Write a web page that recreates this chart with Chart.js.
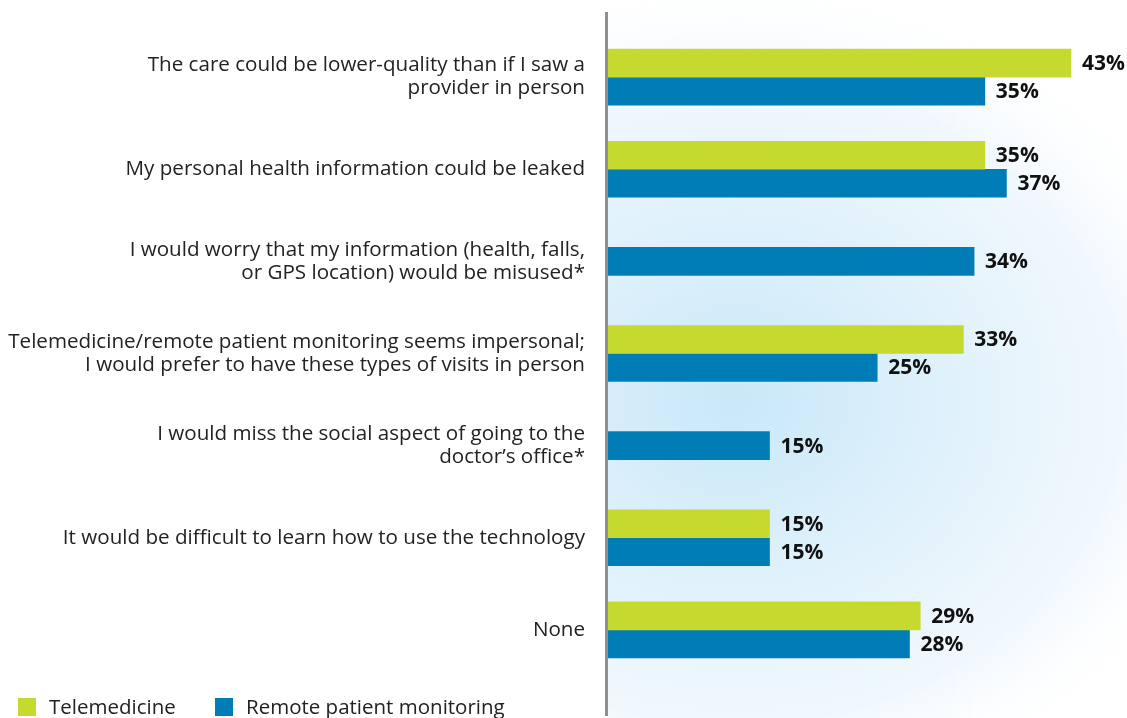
<!DOCTYPE html>
<html>
<head>
<meta charset="utf-8">
<script src="https://cdn.jsdelivr.net/npm/chart.js@4.4.1/dist/chart.umd.min.js"></script>
<style>
  html, body { margin: 0; padding: 0; background: #fff; overflow: hidden; }
  #wrap { position: relative; width: 1127px; height: 718px; }
</style>
</head>
<body>
<div id="wrap"><canvas id="dataChart"></canvas></div>
<script>
// Survey data (percent)
const categories = [
    ['The care could be lower-quality than if I saw a', 'provider in person'],
    'My personal health information could be leaked',
    ['I would worry that my information (health, falls,', 'or GPS location) would be misused*'],
    ['Telemedicine/remote patient monitoring seems impersonal;', 'I would prefer to have these types of visits in person'],
    ['I would miss the social aspect of going to the', 'doctor\u2019s office*'],
    'It would be difficult to learn how to use the technology',
    'None'
];
const telemedicine = [43, 35, null, 33, null, 15, 29];
const remoteMonitoring = [35, 37, 34, 25, 15, 15, 28];
const seriesNames = ['Telemedicine', 'Remote patient monitoring'];

const GREEN = '#c6d92e';
const BLUE = '#007cb6';
const FONT = "'Open Sans', 'Noto Sans', sans-serif";

// soft blue glow behind the plot (only right of the axis)
const backdrop = {
    id: 'backdrop',
    beforeDraw(chart) {
        const ctx = chart.ctx;
        const left = chart.chartArea.left;
        ctx.save();
        ctx.beginPath();
        ctx.rect(left, 0, chart.width - left, chart.height);
        ctx.clip();
        ctx.translate(735, 400);
        ctx.scale(1.2, 1);
        const g = ctx.createRadialGradient(0, 0, 0, 0, 0, 430);
        g.addColorStop(0, '#c8e8f8');
        g.addColorStop(0.4, '#dff1fb');
        g.addColorStop(0.75, '#f1f8fd');
        g.addColorStop(1, 'rgba(255,255,255,0)');
        ctx.fillStyle = g;
        ctx.fillRect(-600, -450, 1200, 900);
        ctx.restore();
    }
};

// axis line, value labels and legend
const extras = {
    id: 'extras',
    afterDatasetsDraw(chart) {
        const ctx = chart.ctx;
        const x0 = chart.scales.x.getPixelForValue(0);
        ctx.save();
        ctx.strokeStyle = '#8d9093';
        ctx.lineWidth = 3;
        ctx.beginPath();
        ctx.moveTo(x0 - 1.5, 12);
        ctx.lineTo(x0 - 1.5, 716);
        ctx.stroke();

        ctx.font = 'bold 21px ' + FONT;
        ctx.fillStyle = '#111';
        ctx.textBaseline = 'middle';
        ctx.textAlign = 'left';
        chart.data.datasets.forEach((ds, i) => {
            chart.getDatasetMeta(i).data.forEach((bar, j) => {
                if (ds.data[j] == null) return;
                ctx.fillText(ds.data[j] + '%', bar.x + 11, bar.y + 1);
            });
        });

        // legend
        ctx.font = '20.5px ' + FONT;
        const items = [{x: 18, c: GREEN}, {x: 215, c: BLUE}];
        items.forEach((it, i) => {
            ctx.fillStyle = it.c;
            ctx.fillRect(it.x, 698, 18, 18);
            ctx.fillStyle = '#222';
            ctx.fillText(seriesNames[i], it.x + 31, 708);
        });
        ctx.restore();
    }
};

new Chart(document.getElementById('dataChart').getContext('2d'), {
    type: 'bar',
    data: {
        labels: categories,
        datasets: [
            { label: seriesNames[0], data: telemedicine, backgroundColor: GREEN },
            { label: seriesNames[1], data: remoteMonitoring, backgroundColor: BLUE }
        ]
    },
    options: {
        indexAxis: 'y',
        responsive: true,
        maintainAspectRatio: false,
        animation: false,
        skipNull: true,
        barThickness: 28,
        layout: { padding: { top: 31, bottom: 42, left: 0, right: 0 } },
        plugins: { legend: { display: false }, tooltip: { enabled: false } },
        scales: {
            x: {
                display: false,
                min: 0,
                max: 48.2
            },
            y: {
                afterFit(axis) {
                    axis.width = 608;
                    axis.paddingTop = 0;
                    axis.paddingBottom = 0;
                },
                border: { display: false },
                grid: { display: false, drawTicks: false },
                ticks: {
                    color: '#222',
                    padding: 23,
                    font: { family: FONT, size: 20.6, lineHeight: 1.12 }
                }
            }
        }
    },
    plugins: [backdrop, extras]
});
</script>
</body>
</html>
